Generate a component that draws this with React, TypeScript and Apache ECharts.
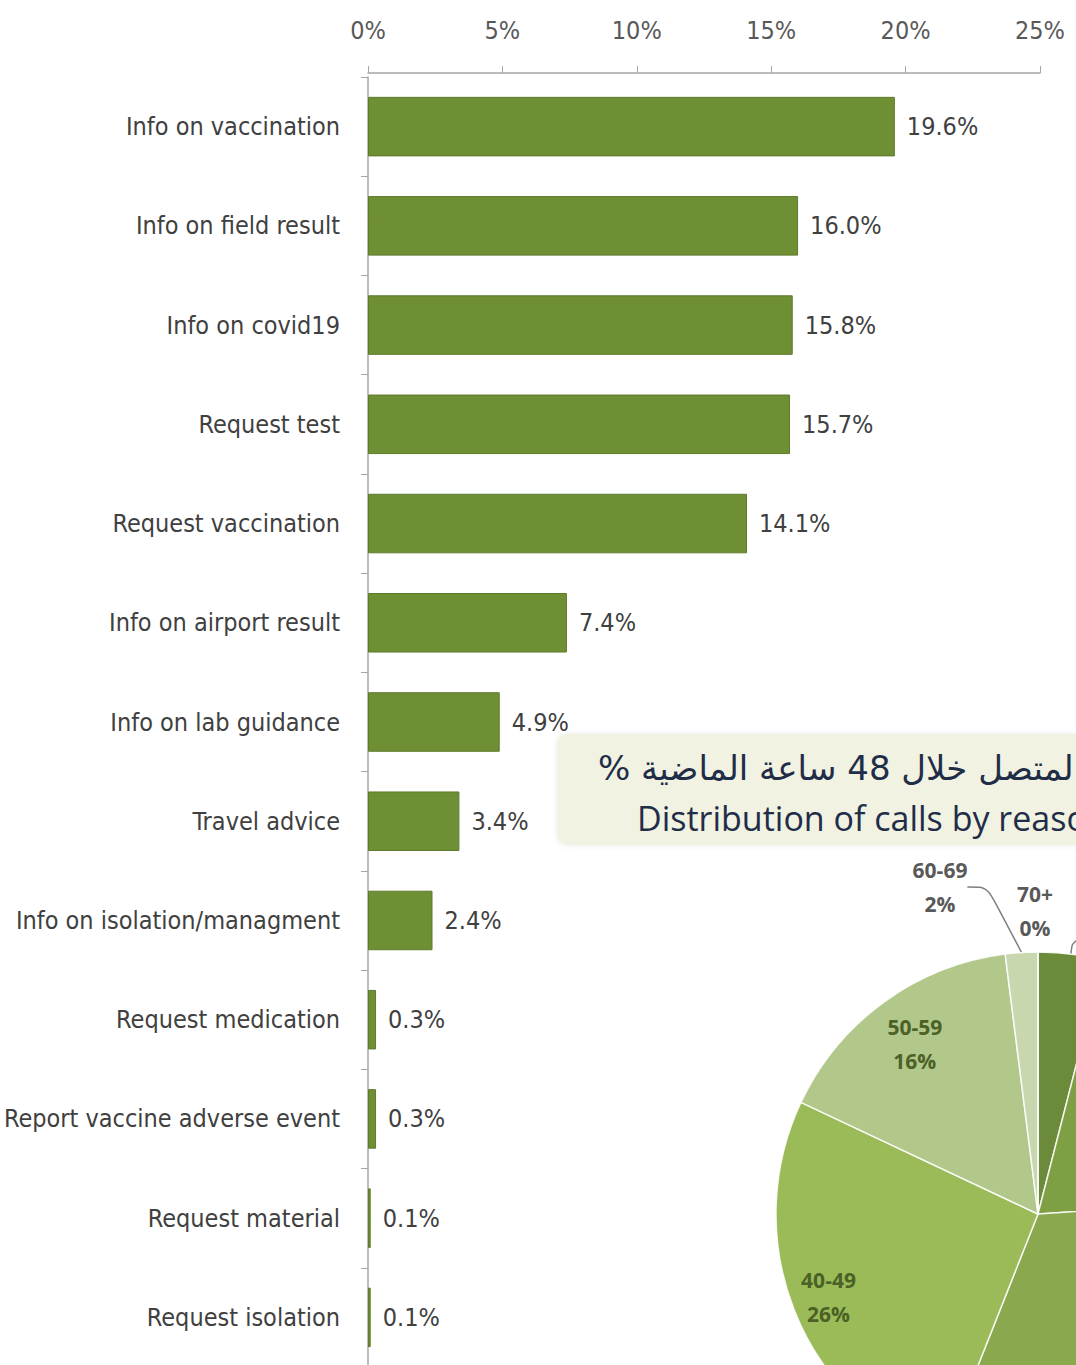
import React, { useEffect, useRef } from "react";
import * as echarts from "echarts";

const categories = [
  "Info on vaccination",
  "Info on field result",
  "Info on covid19",
  "Request test",
  "Request vaccination",
  "Info on airport result",
  "Info on lab guidance",
  "Travel advice",
  "Info on isolation/managment",
  "Request medication",
  "Report vaccine adverse event",
  "Request material",
  "Request isolation",
];
const shares = [19.6, 16.0, 15.8, 15.7, 14.1, 7.4, 4.9, 3.4, 2.4, 0.3, 0.3, 0.1, 0.1];

const xMin = 0;
const xMax = 25;
const xStep = 5;

const ageGroups = ["<20", "20-29", "30-39", "40-49", "50-59", "60-69", "70+"];
const ageShares = [4, 20, 32, 26, 16, 2, 0];
const ageColors = ["#6b8a3a", "#7f9f44", "#8aa84e", "#9bbb59", "#b2c78a", "#c9d7af", "#dde6cb"];

const titleArabic = "توزيع نسبة المتصل خلال 48 ساعة الماضية %";
const titleEnglish = "Distribution of calls by reason for calling";

const condensed = "'Liberation Sans Narrow', 'DejaVu Sans Condensed', 'Roboto Condensed', 'Liberation Sans', sans-serif";

export default function App() {
  const ref = useRef<HTMLDivElement>(null);
  useEffect(() => {
    if (!ref.current) return;
    const chart = echarts.init(ref.current, undefined, { renderer: "svg" });
    const pieCenter = [1038, 1214];
    const pieR = 262;
    const insideLabels = ["40-49", "50-59"];
    const option: any = {
      animation: false,
      backgroundColor: "#ffffff",
      grid: { left: 368, top: 77, width: 672, height: 1290, containLabel: false, outerBoundsMode: "none" },
      xAxis: {
        type: "value",
        position: "top",
        min: xMin,
        max: xMax,
        interval: xStep,
        offset: 4,
        axisLine: { show: true, lineStyle: { color: "#a6a6a6", width: 1.5 } },
        axisTick: { show: true, length: 7, lineStyle: { color: "#a6a6a6" } },
        splitLine: { show: false },
        axisLabel: {
          formatter: "{value}%",
          color: "#595959",
          fontSize: 25,
          fontFamily: condensed,
          margin: 30,
        },
      },
      yAxis: {
        type: "category",
        data: categories,
        inverse: true,
        axisLine: { show: true, lineStyle: { color: "#a6a6a6", width: 1.5 } },
        axisTick: { show: true, length: 7, lineStyle: { color: "#a6a6a6" } },
        axisLabel: {
          color: "#404040",
          fontSize: 25,
          fontFamily: condensed,
          margin: 28,
        },
      },
      series: [
        {
          type: "bar",
          data: shares,
          barCategoryGap: "40%",
          itemStyle: { color: "#6f8f35", borderColor: "#5e7a2b", borderWidth: 1 },
          label: {
            show: true,
            position: "right",
            distance: 12,
            formatter: (p: any) => p.value.toFixed(1) + "%",
            color: "#404040",
            fontSize: 25,
            fontFamily: condensed,
          },
          z: 2,
        },
        {
          type: "pie",
          center: pieCenter,
          radius: pieR,
          startAngle: 90,
          clockwise: true,
          z: 10,
          avoidLabelOverlap: false,
          itemStyle: { borderColor: "rgba(255,255,255,0.85)", borderWidth: 1.5 },
          label: {
            fontFamily: "'Open Sans', sans-serif",
            fontWeight: "bold",
            fontSize: 21,
            lineHeight: 34,
            formatter: (p: any) => p.name + "\n" + p.value + "%",
          },
          labelLine: { lineStyle: { color: "#7f7f7f", width: 1.5 }, length: 14, length2: 20, smooth: 0.3 },
          labelLayout: (p: any) => {
            if (p.seriesIndex !== 1) return {};
            const name = ageGroups[p.dataIndex];
            if (insideLabels.indexOf(name) >= 0) {
              const r = p.labelRect;
              const cx = r.x + r.width / 2;
              const cy = r.y + r.height / 2;
              const vx = cx - pieCenter[0];
              const vy = cy - pieCenter[1];
              const d = Math.sqrt(vx * vx + vy * vy) || 1;
              const k = (pieR * (name === "40-49" ? 0.86 : 0.8)) / d;
              return { dx: pieCenter[0] + vx * k - cx, dy: pieCenter[1] + vy * k - cy };
            }
            if (name === "60-69") {
              return { x: 940, y: 887, align: "center", verticalAlign: "middle" };
            }
            if (name === "70+") {
              return { x: 1035, y: 911, align: "center", verticalAlign: "middle" };
            }
            return {};
          },
          data: ageGroups.map((g, i) => {
            const inside = insideLabels.indexOf(g) >= 0;
            const outsideVisible = g === "60-69" || g === "70+" || g === "<20";
            return {
              name: g,
              value: ageShares[i],
              itemStyle: { color: ageColors[i] },
              label: inside
                ? { show: true, position: "inside", color: "#4b6126" }
                : { show: outsideVisible, position: "outside", color: "#595959" },
              labelLine: { show: g === "60-69" || g === "<20" },
            };
          }),
        },
      ],
      graphic: [
        {
          type: "rect",
          z: 5,
          shape: { x: 557, y: 734, width: 560, height: 111, r: 10 },
          style: { fill: "#f1f2e1", shadowBlur: 6, shadowColor: "rgba(0,0,0,0.08)" },
        },
        {
          type: "text",
          z: 6,
          x: 598,
          y: 768,
          style: {
            text: "\u202B" + titleArabic + "\u202C",
            font: "34px 'DejaVu Sans', 'Noto Sans', sans-serif",
            fill: "#1f2d48",
            textAlign: "left",
            textVerticalAlign: "middle",
          },
        },
        {
          type: "text",
          z: 6,
          x: 637,
          y: 818,
          style: {
            text: titleEnglish,
            font: "34px 'Open Sans', Lato, sans-serif",
            fill: "#1f2d48",
            textAlign: "left",
            textVerticalAlign: "middle",
          },
        },
      ],
    };
    chart.setOption(option);
    return () => chart.dispose();
  }, []);
  return (
    <div
      ref={ref}
      style={{ position: "fixed", left: 0, top: 0, width: 1076, height: 1365, background: "#fff" }}
    />
  );
}
